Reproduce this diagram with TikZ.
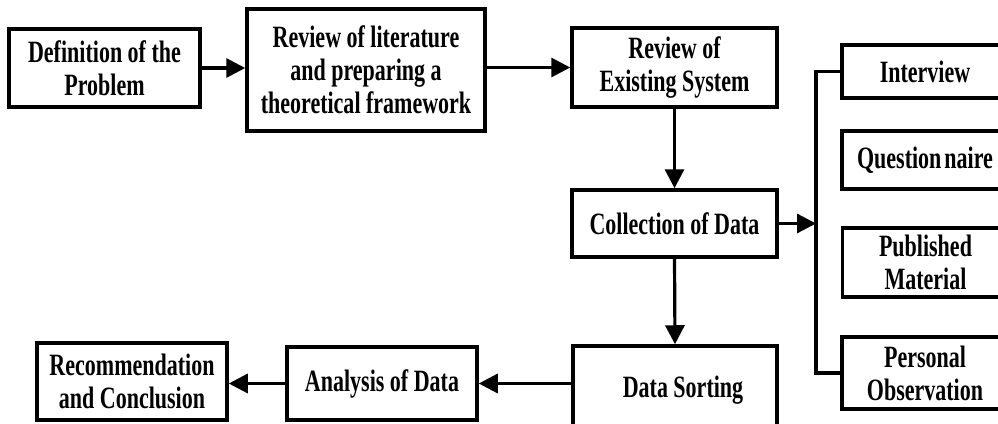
\documentclass[tikz,border=0pt]{standalone}
\usepackage{fontspec}
\setmainfont[FakeStretch=0.71]{Liberation Serif}
\usetikzlibrary{arrows.meta}
\begin{document}
\begin{tikzpicture}[x=1pt,y=-1pt,
  box/.style={draw, line width=3.5pt, rectangle, inner sep=0pt, align=center,
    font=\bfseries\fontsize{31}{33}\selectfont},
  link/.style={line width=3.2pt, -{Triangle[length=19pt,width=19pt]}},
  bus/.style={line width=3.2pt, line join=miter}]
\useasboundingbox (0,0) rectangle (998,423);
\clip (0,0) rectangle (998,423);
\fill[white] (0,0) rectangle (998,423);

% main sequence
\node[box, minimum width=191pt, minimum height=78pt] (def) at (104.5,68) {Definition of the\\Problem};
\node[box, minimum width=238pt, minimum height=122pt] (lit) at (366,70) {Review of literature\\and preparing a\\theoretical framework};
\node[box, minimum width=205pt, minimum height=79pt] (exist) at (674.5,67.5) {Review of\\Existing System};
\node[box, minimum width=205pt, minimum height=67pt] (coll) at (674.5,223.5) {Collection of Data};
\node[box, minimum width=204pt, minimum height=88pt] (sort) at (675,390) {\hspace*{16pt}Data Sorting};
\node[box, minimum width=190pt, minimum height=73pt] (an) at (382,383.5) {Analysis of Data};
\node[box, minimum width=190pt, minimum height=77pt] (rec) at (132,381.5) {Recommendation\\and Conclusion};

% data sources
\node[box, minimum width=166pt, minimum height=53pt] (int) at (925,71.5) {Interview};
\node[box, minimum width=166pt, minimum height=58pt] (que) at (925,160) {Question\kern3pt naire};
\node[box, minimum width=166pt, minimum height=69pt] (pub) at (925.5,262.5) {Published\\Material};
\node[box, minimum width=166pt, minimum height=72pt] (per) at (925,373) {Personal\\Observation};

\coordinate (hub) at (816,223.5);

% connectors
\draw[link] (def.east) -- (def.east -| lit.west);
\draw[link] (exist.west -| lit.east) -- (exist.west);
\draw[link] (exist.south) -- (coll.north);
\draw[link] (coll.east) -- (hub);
\draw[bus] (int.west) -| (hub) |- (per.west);
\draw[link] (coll.south) -- (sort.north);
\draw[link] (sort.west |- an.east) -- (an.east);
\draw[link] (an.west) -- (an.west -| rec.east);
\end{tikzpicture}
\end{document}
